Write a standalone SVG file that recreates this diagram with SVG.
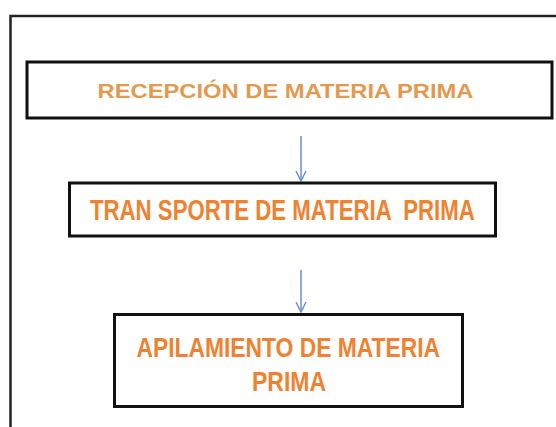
<svg xmlns="http://www.w3.org/2000/svg" width="556" height="427" viewBox="0 0 556 427">
<style>
.box{fill:#fff;stroke:#111;stroke-width:3}
.t1{font-family:"Liberation Sans",Arial,sans-serif;fill:#E39A4E;font-size:20px;font-weight:bold}
.t2{font-family:"Liberation Sans",Arial,sans-serif;fill:#EE8231;font-size:30px;font-weight:bold;white-space:pre}
.t3{font-family:"Liberation Sans",Arial,sans-serif;fill:#EE8231;font-size:28px;font-weight:bold}
.conn{stroke:#6B8FCF;stroke-width:1.5;fill:none}
</style>
<defs>
<marker id="ah" viewBox="0 0 12 12" refX="11" refY="6" markerWidth="12" markerHeight="12" markerUnits="userSpaceOnUse" orient="auto">
<path d="M1,1 L11,6 L1,11" fill="none" stroke="#6B8FCF" stroke-width="1.5"/>
</marker>
</defs>
<rect width="556" height="427" fill="#fff"/>
<path d="M10.5,430 L10.5,16 L560,16" fill="none" stroke="#222" stroke-width="2.5"/>
<g id="connectors">
<line class="conn" x1="301" y1="136" x2="301" y2="181" marker-end="url(#ah)"/>
<line class="conn" x1="301" y1="270" x2="301" y2="312" marker-end="url(#ah)"/>
</g>
<g id="n1">
<rect class="box" x="27" y="62" width="525" height="56"/>
<text class="t1" x="97.5" y="97.5" textLength="376" lengthAdjust="spacingAndGlyphs">RECEPCIÓN DE MATERIA PRIMA</text>
</g>
<g id="n2">
<rect class="box" x="69.5" y="183" width="426" height="53"/>
<text class="t2" transform="translate(90,220) scale(0.8,1)" x="0" y="0" textLength="481" lengthAdjust="spacingAndGlyphs" xml:space="preserve">TRAN SPORTE DE MATERIA  PRIMA</text>
</g>
<g id="n3">
<rect class="box" x="114.5" y="314.5" width="348" height="92"/>
<text class="t3" x="136.5" y="356.5" textLength="303.5" lengthAdjust="spacingAndGlyphs">APILAMIENTO DE MATERIA</text>
<text class="t3" x="252" y="391" textLength="74" lengthAdjust="spacingAndGlyphs">PRIMA</text>
</g>
</svg>
